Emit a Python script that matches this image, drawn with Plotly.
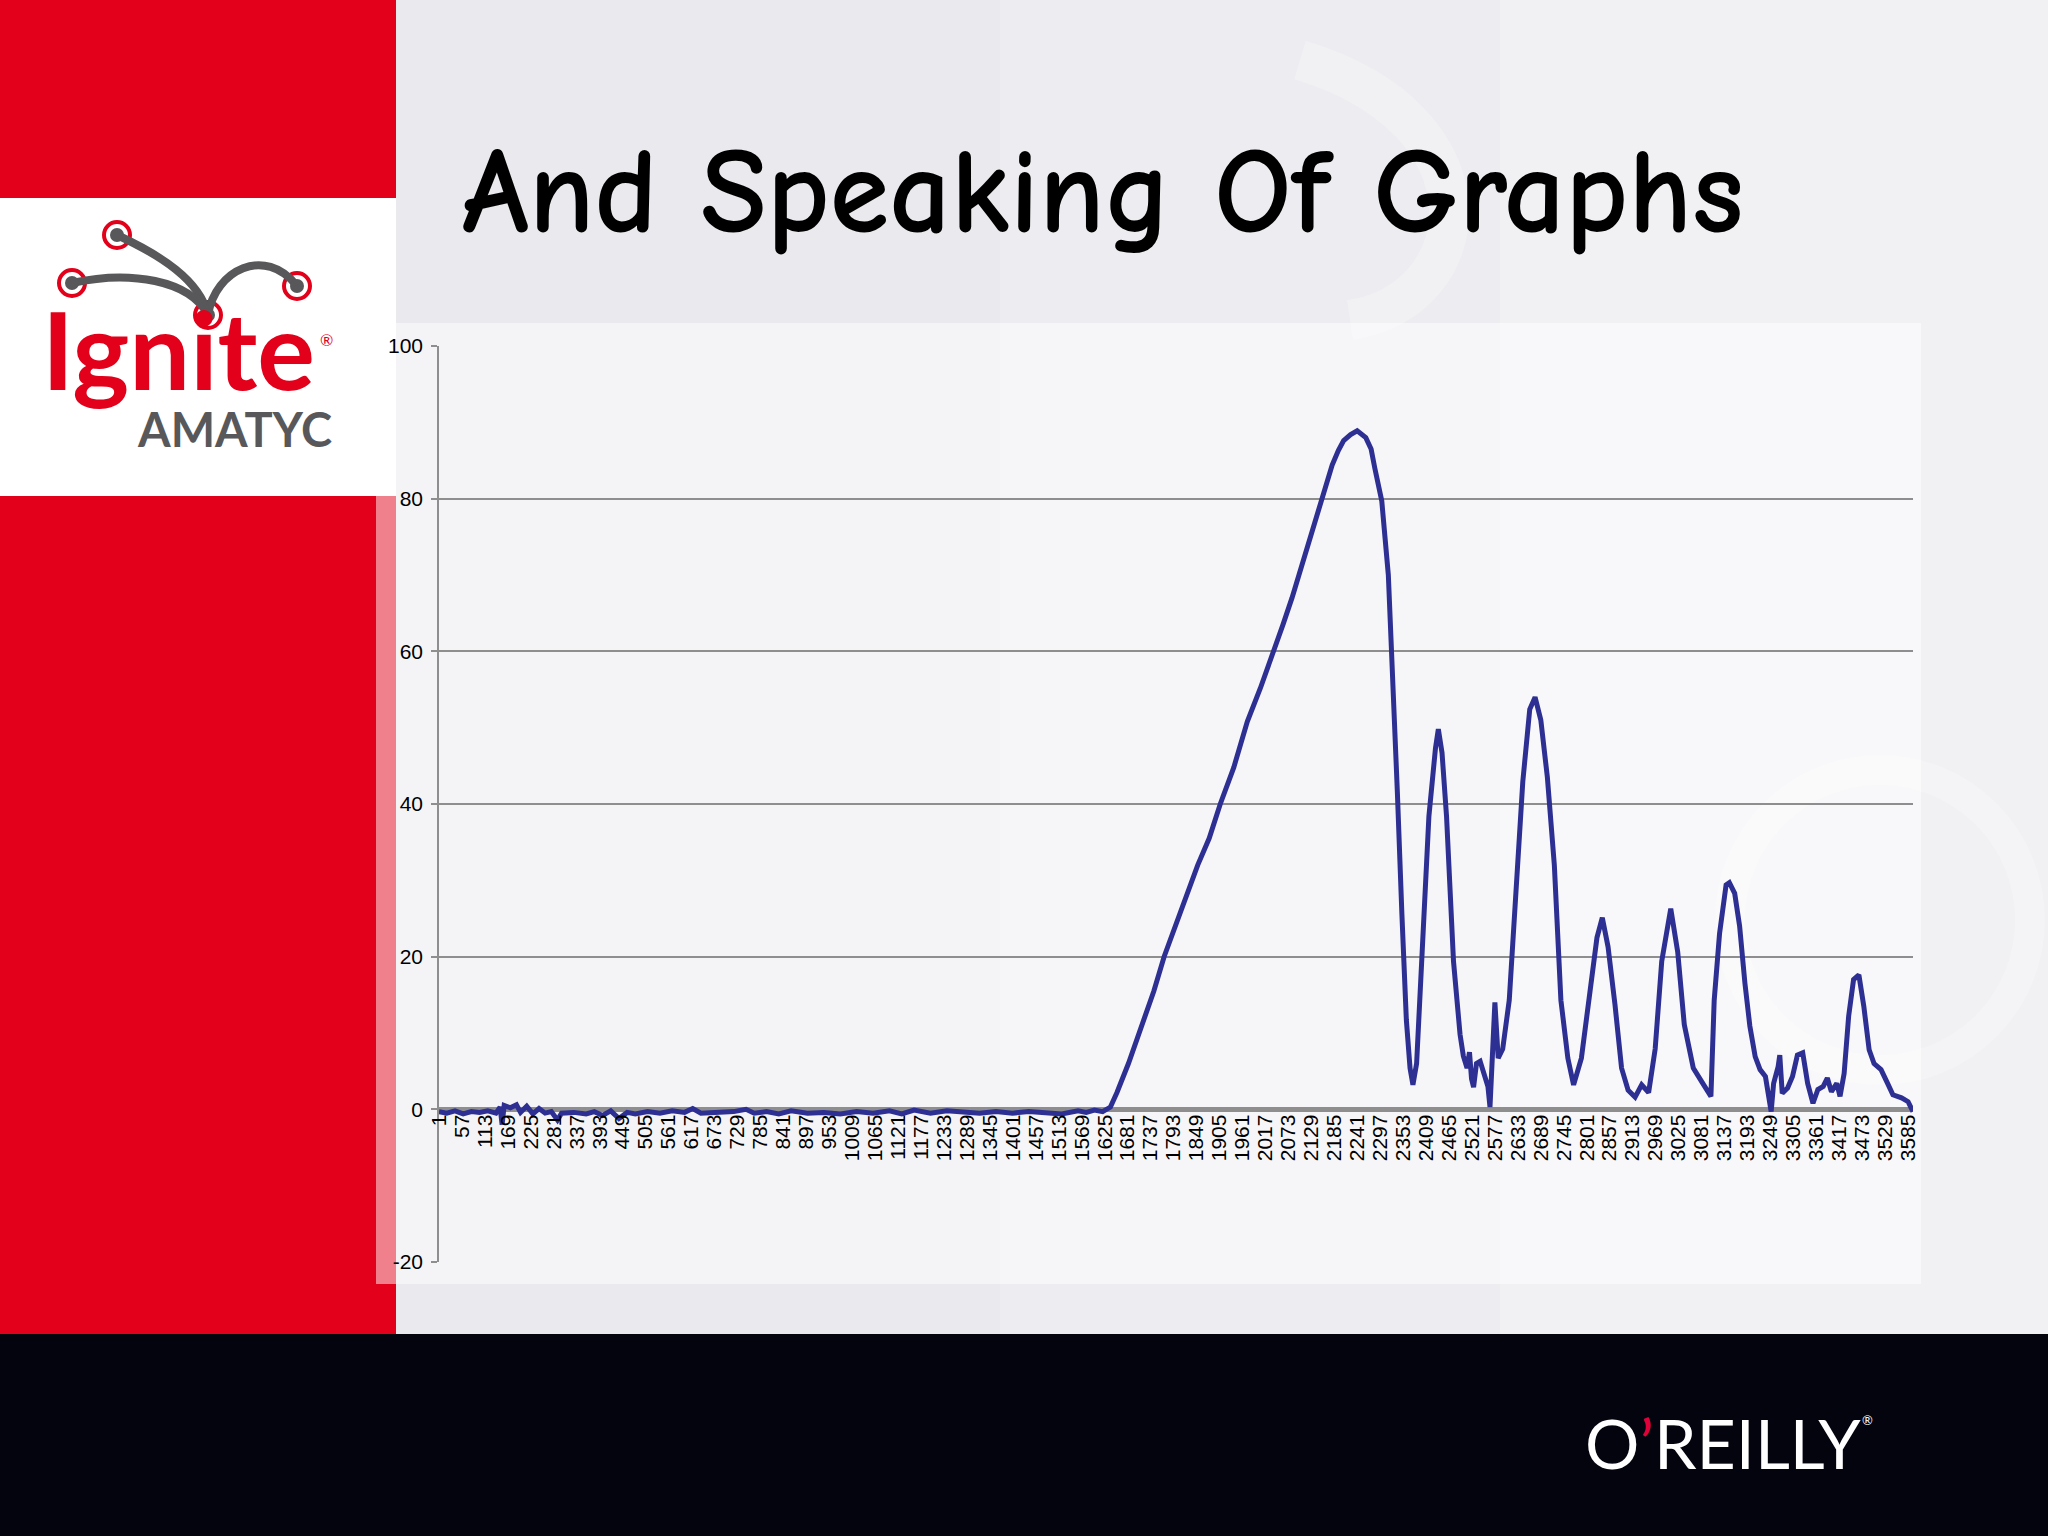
import plotly.graph_objects as go

# ---------------- data ----------------
sample_index = [
    1, 20, 40, 60, 80, 100, 120, 140, 150, 155, 160, 175, 190, 200, 215, 230, 245, 260, 275, 290,
    300, 330, 360, 380, 400, 420, 440, 460, 480, 510, 540, 570, 600, 620, 640, 680, 720, 750, 770,
    800, 830, 860, 900, 940, 980, 1020, 1060, 1100, 1130, 1160, 1200, 1240, 1280, 1320, 1360, 1400,
    1440, 1480, 1520, 1560, 1580, 1600, 1620,
    1639, 1655, 1683, 1715, 1745, 1770, 1795, 1819, 1852, 1880, 1907, 1940, 1973, 2005, 2038, 2060,
    2082, 2104, 2126, 2158, 2180, 2195, 2208, 2225, 2241, 2262, 2275, 2284, 2301, 2317, 2328, 2339,
    2350, 2361, 2370, 2377, 2386, 2399, 2416, 2432, 2439, 2448, 2459, 2476, 2492, 2500, 2509, 2515,
    2520, 2525, 2532, 2541, 2552, 2560, 2565, 2572, 2577, 2585, 2596, 2612, 2629, 2645, 2662, 2675,
    2689, 2705, 2722, 2738, 2755, 2769, 2788, 2804, 2826, 2839, 2853, 2870, 2886, 2902, 2919, 2935,
    2952, 2968, 2984, 3006, 3023, 3039, 3061, 3083, 3104, 3112, 3125, 3141, 3149, 3162, 3174, 3187,
    3199, 3212, 3224, 3237, 3245, 3251, 3257, 3268, 3272, 3278, 3291, 3303, 3315, 3328, 3340, 3353,
    3365, 3378, 3388, 3398, 3411, 3419, 3429, 3440, 3452, 3465, 3477, 3490, 3502, 3519, 3535, 3548,
    3569, 3585, 3597,
]
reading = [
    -0.3, -0.5, -0.2, -0.6, -0.3, -0.4, -0.2, -0.5, 0.3, -2.0, 0.5, 0.2, 0.6, -0.4, 0.4, -0.6, 0.1,
    -0.5, -0.3, -1.4, -0.5, -0.4, -0.6, -0.3, -0.8, -0.2, -1.2, -0.4, -0.6, -0.3, -0.5, -0.2, -0.4,
    0.1, -0.5, -0.4, -0.3, 0.0, -0.5, -0.3, -0.6, -0.2, -0.5, -0.4, -0.6, -0.3, -0.5, -0.2, -0.6,
    -0.1, -0.5, -0.2, -0.4, -0.5, -0.3, -0.5, -0.3, -0.5, -0.6, -0.2, -0.4, -0.1, -0.3,
    0.3, 2.2, 6.0, 10.8, 15.5, 20.0, 23.8, 27.3, 32.0, 35.5, 40.0, 44.8, 50.8, 55.2, 60.0, 63.5,
    67.0, 71.0, 74.6, 80.3, 84.4, 86.3, 87.6, 88.4, 88.9, 88.0, 86.5, 84.0, 79.7, 70.0, 57.5, 41.6,
    25.7, 11.7, 5.4, 3.2, 6.0, 19.4, 38.4, 47.3, 49.8, 46.7, 38.4, 19.4, 9.8, 7.0, 5.4, 7.5,
    4.0, 2.9, 6.0, 6.3, 4.1, 3.0, 0.3, 8.6, 14.0, 6.7, 7.9, 14.3, 28.9, 42.9, 52.4, 54.0,
    51.0, 43.5, 32.0, 14.3, 6.7, 3.2, 6.7, 13.0, 22.5, 25.1, 21.3, 13.7, 5.4, 2.5, 1.6, 3.2,
    2.2, 7.9, 19.4, 26.3, 20.6, 11.1, 5.4, 3.5, 1.7, 14.3, 23.0, 29.4, 29.7, 28.3, 24.0, 16.5,
    10.9, 6.9, 5.2, 4.3, 2.1, -0.3, 3.4, 5.6, 7.1, 2.1, 2.8, 4.3, 7.1, 7.4, 3.4, 0.8,
    2.6, 3.0, 4.1, 2.3, 3.4, 1.7, 4.7, 12.2, 17.0, 17.6, 13.5, 7.8, 6.0, 5.2, 3.4, 1.9,
    1.5, 1.0, -0.3,
]
x_tick_values = [
    1, 57, 113, 169, 225, 281, 337, 393, 449, 505, 561, 617, 673, 729, 785, 841, 897, 953, 1009,
    1065, 1121, 1177, 1233, 1289, 1345, 1401, 1457, 1513, 1569, 1625, 1681, 1737, 1793, 1849, 1905,
    1961, 2017, 2073, 2129, 2185, 2241, 2297, 2353, 2409, 2465, 2521, 2577, 2633, 2689, 2745, 2801,
    2857, 2913, 2969, 3025, 3081, 3137, 3193, 3249, 3305, 3361, 3417, 3473, 3529, 3585,
]
x_tick_labels = [str(v) for v in x_tick_values]
y_tick_values = [-20, 0, 20, 40, 60, 80, 100]
y_tick_labels = ["-20", "0", "20", "40", "60", "80", "100"]

# ---------------- geometry helpers (pixel -> paper) ----------------
W, H = 2048, 1536
L, R, T, B = 439, 1913, 346, 1262  # plot area in page pixels


def PX(x):
    return (x - L) / (R - L)


def PY(y):
    return (B - y) / (B - T)


def rect(x0, y0, x1, y1, fill):
    return dict(type="rect", xref="paper", yref="paper", layer="below",
                x0=PX(x0), x1=PX(x1), y0=PY(y1), y1=PY(y0),
                fillcolor=fill, line=dict(width=0))


def circle(cx, cy, r, fill=None, line_color=None, lw=0):
    d = dict(type="circle", xref="paper", yref="paper", layer="below",
             x0=PX(cx - r), x1=PX(cx + r), y0=PY(cy + r), y1=PY(cy - r))
    d["fillcolor"] = fill if fill else "rgba(0,0,0,0)"
    d["line"] = dict(color=line_color or "rgba(0,0,0,0)", width=lw)
    return d


def path(points_str, color, width):
    return dict(type="path", xref="paper", yref="paper", layer="below",
                path=points_str, line=dict(color=color, width=width),
                fillcolor="rgba(0,0,0,0)")


def cubic(p0, c1, c2, p1):
    return "M {},{} C {},{} {},{} {},{}".format(
        PX(p0[0]), PY(p0[1]), PX(c1[0]), PY(c1[1]),
        PX(c2[0]), PY(c2[1]), PX(p1[0]), PY(p1[1]))


RED = "#e2001a"
GREY = "#58585a"
LINE_BLUE = "#2d3092"
AXIS_GREY = "#8e8e8e"

shapes = [
    # slide background: slightly lighter towards the right
    rect(396, 0, 1000, 1334, "#e9e9ee"),
    rect(1000, 0, 1500, 1334, "#ededf1"),
    rect(1500, 0, 2048, 1334, "#f1f1f4"),
    rect(0, 0, 396, 1334, RED),
    rect(0, 198, 396, 496, "#ffffff"),
    # faint background swirls
    circle(1880, 920, 150, None, "rgba(255,255,255,0.22)", 30),
    path(cubic((1300, 60), (1500, 120), (1480, 300), (1350, 320)), "rgba(255,255,255,0.25)", 40),
    # chart area
    rect(376, 323, 1921, 1284, "rgba(255,255,255,0.5)"),
    rect(0, 1334, 2048, 1536, "#04040e"),
]

# Ignite logo graphic
nodes = [(117, 235), (72, 283), (297, 286), (208, 315)]
for cx, cy in nodes:
    shapes.append(circle(cx, cy, 13, "#ffffff", RED, 4))
shapes.append(path(cubic((117, 235), (160, 255), (200, 280), (208, 315)), GREY, 8))
shapes.append(path(cubic((72, 283), (130, 270), (190, 280), (208, 315)), GREY, 8))
shapes.append(path(cubic((208, 315), (215, 270), (265, 245), (297, 286)), GREY, 8))
for cx, cy in nodes:
    shapes.append(circle(cx, cy, 7, GREY, None, 0))


def note(text, x, y, size, color, family="Lato", weight="normal", xanchor="left"):
    return dict(text=text, x=PX(x), y=PY(y), xref="paper", yref="paper",
                showarrow=False, xanchor=xanchor, yanchor="middle",
                font=dict(size=size, color=color, family=family, weight=weight))


annotations = [
    note("And Speaking Of Graphs", 460, 192, 121, "#000000",
         family="Comic Sans MS, Comic Neue, Noto Sans", weight="bold"),
    note("Ignite", 40, 348, 108, RED, weight="bold"),
    note("®", 318, 340, 16, RED),
    note("AMATYC", 135, 429, 47, GREY, weight="bold"),
    note("O<span style='color:#e0003a'>’</span>REILLY", 1583, 1442, 68, "#ffffff"),
    note("®", 1860, 1420, 13, "#ffffff"),
]

fig = go.Figure()
fig.add_trace(go.Scatter(
    x=sample_index, y=reading, mode="lines",
    line=dict(color=LINE_BLUE, width=5), hoverinfo="skip", showlegend=False,
))

tick_font = dict(family="Liberation Sans, Arial, sans-serif", size=21, color="#000000")

fig.update_layout(
    width=W, height=H,
    margin=dict(l=L, r=W - R, t=T, b=H - B, pad=0),
    paper_bgcolor="#ececf0",
    plot_bgcolor="rgba(0,0,0,0)",
    showlegend=False,
    shapes=shapes,
    annotations=annotations,
    xaxis=dict(
        range=[1, 3597], tickmode="array", tickvals=x_tick_values, ticktext=x_tick_labels,
        tickangle=-90, showgrid=False, zeroline=False, showline=False, ticks="",
        anchor="free", position=20 / 120, tickfont=tick_font, fixedrange=True,
    ),
    yaxis=dict(
        range=[-20, 100], tickmode="array", tickvals=y_tick_values, ticktext=y_tick_labels,
        showgrid=True, gridcolor=AXIS_GREY, gridwidth=1.5,
        zeroline=True, zerolinecolor=AXIS_GREY, zerolinewidth=5,
        showline=True, linecolor=AXIS_GREY, linewidth=1.5,
        ticks="outside", ticklen=6, tickcolor=AXIS_GREY, tickwidth=1.5,
        ticklabelstandoff=4, tickfont=tick_font, fixedrange=True,
    ),
)

fig.write_html(
    "out.html",
    config={"displayModeBar": False},
    post_script="document.body.style.margin='0';document.body.style.overflow='hidden';",
)
